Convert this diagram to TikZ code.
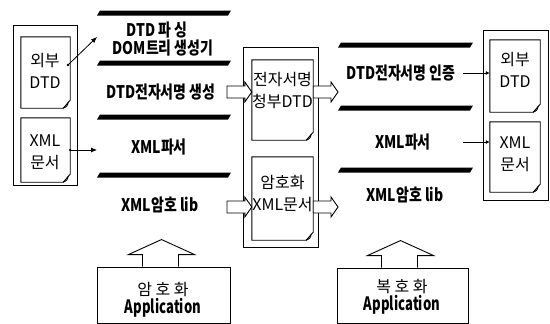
\documentclass[tikz,border=0pt]{standalone}
\usepackage{fontspec}
\setmainfont{Noto Sans CJK KR}
\usetikzlibrary{calc,arrows.meta}
\newcommand\layerbar[3]{\fill (#1,#3+2.5) -- (#1+3,#3-2.5) -- (#2+3,#3-2.5) -- (#2,#3+2.5) -- cycle;}
\newcommand\docoutline[1]{%
  \draw[docline] (#1.north west) -- (#1.north east) -- ($(#1.south east)+(0,-8)$) -- ($(#1.south east)+(-7,0)$) -- (#1.south west) -- cycle;
  \draw[docline] ($(#1.south east)+(-7,0)$) .. controls ($(#1.south east)+(-3,-2)$) .. ($(#1.south east)+(-2,-6)$);}
\newcommand\hollowarrow[2]{%
  \draw[harrow] let \p1=(#1), \p2=(#2) in (\x1,\y1+6pt) -- (\x2-7pt,\y1+6pt) -- (\x2-7pt,\y1+10pt) -- (\x2,\y1) -- (\x2-7pt,\y1-10pt) -- (\x2-7pt,\y1-6pt) -- (\x1,\y1-6pt) -- cycle;}
\newcommand\blockup[1]{%
  \draw[docline] let \p1=(#1) in (\x1-21pt,\y1) -- (\x1-21pt,\y1+12pt) -- (\x1-35pt,\y1+12pt) -- (\x1-2pt,\y1+27pt) -- (\x1+31pt,\y1+12pt) -- (\x1+15pt,\y1+12pt) -- (\x1+15pt,\y1);}
\newcommand\cond[1]{\scalebox{0.9}[1.12]{#1}}
\newcommand\condapp[1]{\scalebox{0.82}[1.15]{#1}}
\begin{document}
\begin{tikzpicture}[x=1pt,y=-1pt,
  frame/.style={draw, line width=0.9pt, inner sep=0},
  docn/.style={inner sep=0},
  docline/.style={line width=0.9pt},
  harrow/.style={line width=0.9pt, fill=white},
  lbl/.style={font=\fontsize{15.5}{15}\selectfont\bfseries, inner sep=0},
  doclbl/.style={font=\fontsize{16}{22}\selectfont, align=center, inner sep=0},
  applbl/.style={font=\fontsize{16}{16}\selectfont, inner sep=0},
  appbold/.style={font=\fontsize{16}{16}\selectfont\bfseries, inner sep=0},
  thinarrow/.style={line width=0.8pt, -{Latex[length=6pt,width=5pt]}},
  dotarrow/.style={line width=0.8pt, -{Latex[length=4pt,width=4pt]}}]
\useasboundingbox (0,0) rectangle (550,324);

% left frame with documents
\node[frame, minimum width=64, minimum height=160] (lframe) at (45,105) {};
\node[docn, minimum width=49, minimum height=71] (ldtd) at (45.5,72.5) {};
\node[docn, minimum width=49, minimum height=64] (lxml) at (45.5,150) {};
\docoutline{ldtd}\docoutline{lxml}
\node[doclbl] (ldtdt) at (45,71) {외부\\DTD};
\node[doclbl] (lxmlt) at (45,152) {XML\\문서};

% center frame
\node[frame, minimum width=75, minimum height=200] (cframe) at (280.5,147) {};
\node[docn, minimum width=61, minimum height=80] (cdtd) at (282.5,100) {};
\node[docn, minimum width=61, minimum height=83] (cxml) at (282.5,198.5) {};
\docoutline{cdtd}\docoutline{cxml}
\node[doclbl] (cdtdt) at (282.5,91) {전자서명\\청부DTD};
\node[doclbl] (cxmlt) at (282.5,194) {암호화\\XML문서};

% right frame
\node[frame, minimum width=65, minimum height=170] (rframe) at (515.5,115) {};
\node[docn, minimum width=50, minimum height=72] (rdtd) at (515,76) {};
\node[docn, minimum width=50, minimum height=70] (rxml) at (515,157) {};
\docoutline{rdtd}\docoutline{rxml}
\node[doclbl] (rdtdt) at (515,70) {외부\\DTD};
\node[doclbl] (rxmlt) at (515,154) {XML\\문서};

% left layers
\layerbar{97}{228}{13}
\layerbar{97}{228}{63}
\layerbar{97}{228}{117}
\layerbar{97}{228}{175}
\node[lbl] (l1) at (157,30) {\cond{DTD 파 싱}};
\node[lbl] (l2) at (163,48) {\cond{DOM트리 생성기}};
\node[lbl] (l3) at (161,92) {\cond{DTD전자서명 생성}};
\node[lbl] (l4) at (159,147) {\cond{XML파서}};
\node[lbl] (l5) at (160,205) {\cond{XML암호 lib}};

% right layers
\layerbar{338}{470}{45}
\layerbar{338}{470}{108}
\layerbar{338}{470}{170}
\node[lbl] (r1) at (401,73) {\cond{DTD전자서명 인증}};
\node[lbl] (r2) at (403,142) {\cond{XML파서}};
\node[lbl] (r3) at (405,195) {\cond{XML암호 lib}};

% hollow arrows
\coordinate (ha1) at (227,92);
\coordinate (ha2) at (227,207);
\coordinate (ra1) at (338,92);
\coordinate (ra2) at (338,207);
\hollowarrow{ha1}{cdtd.west}
\hollowarrow{ha2}{cxml.west}
\hollowarrow{cdtd.east |- ha1}{ra1}
\hollowarrow{cxml.east |- ha2}{ra2}

% thin arrows
\coordinate (s1) at (68,65);
\coordinate (e1) at (97,37);
\draw[thinarrow] (s1) -- (e1);
\fill (s1) circle (1.3);
\coordinate (e2) at (97,150);
\draw[thinarrow] (lxml.east) -- (e2);
\fill (lxml.east) circle (1.3);
\coordinate (s3) at (463,73);
\coordinate (s4) at (463,142);
\draw[dotarrow] (s3) -- (rdtd.west |- s3);
\draw[dotarrow] (s4) -- (rxml.west |- s4);

% application boxes
\node[frame, minimum width=133, minimum height=56] (lapp) at (163.5,295) {};
\node[frame, minimum width=131, minimum height=55] (rapp) at (402.5,295.5) {};
\blockup{lapp.north}
\blockup{rapp.north}
\node[applbl] (lappt) at (163,290) {암 호 화};
\node[appbold] (lappb) at (163,308) {\condapp{Application}};
\node[applbl] (rappt) at (402,287) {복 호 화};
\node[appbold] (rappb) at (402,305) {\condapp{Application}};
\end{tikzpicture}
\end{document}
